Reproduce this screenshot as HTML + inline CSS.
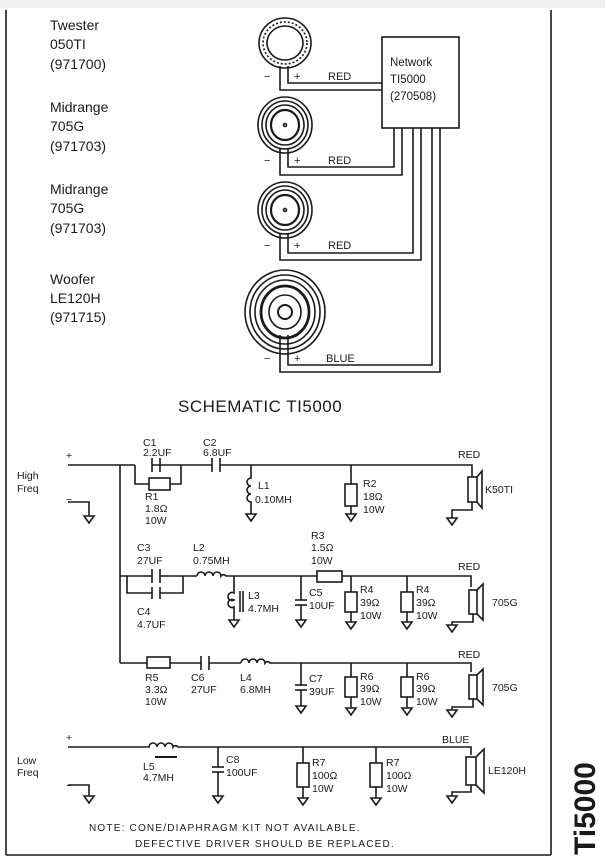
<!DOCTYPE html>
<html><head><meta charset="utf-8"><style>
html,body{margin:0;padding:0;background:#fff;}
svg{display:block;}
text{font-family:"Liberation Sans",sans-serif;fill:#1a1a1a;}
.t{font-size:14px;}
.s{font-size:10.5px;}
</style></head><body>
<svg width="605" height="858" viewBox="0 0 605 858" xmlns="http://www.w3.org/2000/svg">
<rect x="0" y="0" width="605" height="8" fill="#eef0f4"/>
<g stroke="#1a1a1a" fill="none" stroke-width="1.6">
<line x1="6" y1="10" x2="6" y2="855"/>
<line x1="551" y1="10" x2="551" y2="855"/>
<line x1="6" y1="855" x2="551" y2="855"/>

<ellipse cx="285" cy="43" rx="26" ry="25"/>
<ellipse cx="285" cy="43" rx="22" ry="21" stroke-dasharray="2 2"/>
<ellipse cx="285" cy="43" rx="18" ry="17"/>
<rect x="382" y="37" width="77" height="91"/>
<path d="M280 66 V90 H382"/><path d="M288 66 V83 H382"/>

<ellipse cx="285" cy="125" rx="27" ry="28"/>
<ellipse cx="285" cy="125" rx="23" ry="24"/>
<ellipse cx="285" cy="125" rx="19" ry="20"/>
<ellipse cx="285" cy="125" rx="14" ry="15" stroke-width="2.2"/>
<circle cx="285" cy="125" r="1.5"/>
<path d="M280 148 V175 H402 V128"/><path d="M288 148 V167 H394 V128"/>

<ellipse cx="285" cy="210" rx="27" ry="28"/>
<ellipse cx="285" cy="210" rx="23" ry="24"/>
<ellipse cx="285" cy="210" rx="19" ry="20"/>
<ellipse cx="285" cy="210" rx="14" ry="15" stroke-width="2.2"/>
<circle cx="285" cy="210" r="1.5"/>
<path d="M280 233 V260 H421 V128"/><path d="M288 233 V253 H413 V128"/>

<ellipse cx="285" cy="312" rx="40" ry="42"/>
<ellipse cx="285" cy="312" rx="35" ry="37"/>
<ellipse cx="285" cy="312" rx="30" ry="32"/>
<ellipse cx="285" cy="312" rx="24" ry="26" stroke-width="2.8"/>
<ellipse cx="285" cy="312" rx="16" ry="17"/>
<ellipse cx="285" cy="312" rx="7" ry="7" stroke-width="2"/>
<path d="M280 335 V372 H440 V128"/><path d="M288 335 V365 H432 V128"/>

<path d="M68 465 H135"/><path d="M181 465 H152 M160 465 H212 M220 465 H467 H472 V477"/>
<line x1="152" y1="458" x2="152" y2="472"/><line x1="160" y1="458" x2="160" y2="472"/>
<line x1="212" y1="458" x2="212" y2="472"/><line x1="220" y1="458" x2="220" y2="472"/>
<path d="M135 465 V484 H149 M170 484 H181 V465"/>
<rect x="149" y="478" width="21" height="12"/>
<path d="M68 502 H89 V516"/><polygon points="84,516 94,516 89,523"/>
<path d="M120 465 V663"/>
<path d="M251 465 V478 a4 4 0 1 0 0 8 a4 4 0 1 0 0 8 a4 4 0 1 0 0 8 V514"/>
<polygon points="246,514 256,514 251,521"/>
<path d="M351 465 V484 M351 506 V514"/><rect x="345" y="484" width="12" height="22"/>
<polygon points="346,514 356,514 351,521"/>
<rect x="468" y="477" width="9" height="25"/><path d="M477 477 L482 471 V508 L477 502"/>
<path d="M472 502 V510 H452 V518"/><polygon points="447,518 457,518 452,525"/>

<path d="M120 576 H152 M160 576 H197"/>
<line x1="152" y1="569" x2="152" y2="583"/><line x1="160" y1="569" x2="160" y2="583"/>
<path d="M127 576 V593 H152 M160 593 H183 V576"/>
<line x1="152" y1="587" x2="152" y2="599"/><line x1="160" y1="587" x2="160" y2="599"/>
<path d="M197 576 a4 4 0 0 1 8 0 a4 4 0 0 1 8 0 a4 4 0 0 1 8 0 a3 3 0 0 1 5 0 H317 M342 576 H471 V587"/>
<rect x="317" y="571" width="25" height="11"/>
<path d="M234 576 V593 a4 4 0 1 0 0 7 a4 4 0 1 0 0 7 V620"/>
<line x1="240" y1="591" x2="240" y2="612"/><line x1="243" y1="591" x2="243" y2="612"/>
<polygon points="229,620 239,620 234,627"/>
<path d="M301 576 V600 M301 605 V620"/><line x1="295" y1="600" x2="307" y2="600"/><line x1="295" y1="605" x2="307" y2="605"/>
<polygon points="296,620 306,620 301,627"/>
<path d="M351 576 V592 M351 612 V622"/><rect x="345" y="592" width="12" height="20"/>
<polygon points="346,622 356,622 351,629"/>
<path d="M407 576 V592 M407 612 V622"/><rect x="401" y="592" width="12" height="20"/>
<polygon points="402,622 412,622 407,629"/>
<rect x="469" y="590" width="8" height="24"/><path d="M477 590 L483 584 V620 L477 614"/>
<path d="M473 614 V622 H452 V625"/><polygon points="447,625 457,625 452,632"/>

<path d="M120 663 H147 M170 663 H201 M209 663 H241"/>
<rect x="147" y="657" width="23" height="11"/>
<line x1="201" y1="656" x2="201" y2="670"/><line x1="209" y1="656" x2="209" y2="670"/>
<path d="M241 663 a4 4 0 0 1 8 0 a4 4 0 0 1 8 0 a4 4 0 0 1 8 0 a3 3 0 0 1 5 0 H471 V672"/>
<path d="M301 663 V685 M301 690 V706"/><line x1="295" y1="685" x2="307" y2="685"/><line x1="295" y1="690" x2="307" y2="690"/>
<polygon points="296,706 306,706 301,713"/>
<path d="M351 663 V677 M351 697 V708"/><rect x="345" y="677" width="12" height="20"/>
<polygon points="346,708 356,708 351,715"/>
<path d="M407 663 V677 M407 697 V708"/><rect x="401" y="677" width="12" height="20"/>
<polygon points="402,708 412,708 407,715"/>
<rect x="469" y="675" width="8" height="24"/><path d="M477 675 L483 669 V705 L477 699"/>
<path d="M473 699 V707 H452 V710"/><polygon points="447,710 457,710 452,717"/>

<path d="M68 747 H149 a4 4 0 0 1 8 0 a4 4 0 0 1 8 0 a4 4 0 0 1 8 0 a3 3 0 0 1 5 0 H471 V755"/>
<line x1="155" y1="757" x2="177" y2="757" stroke-width="2"/>
<path d="M218 747 V767 M218 772 V796"/><line x1="212" y1="767" x2="224" y2="767"/><line x1="212" y1="772" x2="224" y2="772"/>
<polygon points="213,796 223,796 218,803"/>
<path d="M303 747 V763 M303 787 V798"/><rect x="297" y="763" width="12" height="24"/>
<polygon points="298,798 308,798 303,805"/>
<path d="M376 747 V763 M376 787 V798"/><rect x="370" y="763" width="12" height="24"/>
<polygon points="371,798 381,798 376,805"/>
<rect x="466" y="757" width="10" height="28"/><path d="M476 757 L484 749 V793 L476 785"/>
<path d="M471 785 V792 H452 V796"/><polygon points="447,796 457,796 452,803"/>
<path d="M68 785 H89 V796"/><polygon points="84,796 94,796 89,803"/>
</g>

<g class="t">
<text x="50" y="30">Twester</text><text x="50" y="49">050TI</text><text x="50" y="69">(971700)</text>
<text x="50" y="112">Midrange</text><text x="50" y="131">705G</text><text x="50" y="151">(971703)</text>
<text x="50" y="194">Midrange</text><text x="50" y="213">705G</text><text x="50" y="233">(971703)</text>
<text x="50" y="284">Woofer</text><text x="50" y="303">LE120H</text><text x="50" y="322">(971715)</text>
<text x="390" y="66" font-size="11.5">Network</text><text x="390" y="83" font-size="11.5">TI5000</text><text x="390" y="100" font-size="11.5">(270508)</text>
</g>
<g font-size="11">
<text x="264" y="80">−</text><text x="294" y="80">+</text><text x="328" y="80">RED</text>
<text x="264" y="164">−</text><text x="294" y="164">+</text><text x="328" y="164">RED</text>
<text x="264" y="249">−</text><text x="294" y="249">+</text><text x="328" y="249">RED</text>
<text x="264" y="362">−</text><text x="294" y="362">+</text><text x="326" y="362">BLUE</text>
</g>
<text x="178" y="412" font-size="17" letter-spacing="0.5">SCHEMATIC  TI5000</text>

<g class="s">
<text x="66" y="459">+</text><text x="17" y="479">High</text><text x="17" y="492">Freq</text><text x="66" y="503">−</text>
<text x="143" y="446">C1</text><text x="143" y="456">2.2UF</text>
<text x="203" y="446">C2</text><text x="203" y="456">6.8UF</text>
<text x="145" y="500">R1</text><text x="145" y="512">1.8Ω</text><text x="145" y="524">10W</text>
<text x="258" y="489">L1</text><text x="255" y="503">0.10MH</text>
<text x="363" y="487">R2</text><text x="363" y="500">18Ω</text><text x="363" y="513">10W</text>
<text x="458" y="458">RED</text><text x="485" y="493">K50TI</text>
<text x="137" y="551">C3</text><text x="137" y="564">27UF</text>
<text x="193" y="551">L2</text><text x="193" y="564">0.75MH</text>
<text x="311" y="539">R3</text><text x="311" y="551">1.5Ω</text><text x="311" y="564">10W</text>
<text x="137" y="615">C4</text><text x="137" y="628">4.7UF</text>
<text x="248" y="599">L3</text><text x="248" y="612">4.7MH</text>
<text x="309" y="596">C5</text><text x="309" y="609">10UF</text>
<text x="360" y="593">R4</text><text x="360" y="606">39Ω</text><text x="360" y="619">10W</text>
<text x="416" y="593">R4</text><text x="416" y="606">39Ω</text><text x="416" y="619">10W</text>
<text x="458" y="570">RED</text><text x="492" y="606">705G</text>
<text x="145" y="681">R5</text><text x="145" y="693">3.3Ω</text><text x="145" y="705">10W</text>
<text x="191" y="681">C6</text><text x="191" y="693">27UF</text>
<text x="240" y="681">L4</text><text x="240" y="693">6.8MH</text>
<text x="309" y="682">C7</text><text x="309" y="695">39UF</text>
<text x="360" y="680">R6</text><text x="360" y="692">39Ω</text><text x="360" y="705">10W</text>
<text x="416" y="680">R6</text><text x="416" y="692">39Ω</text><text x="416" y="705">10W</text>
<text x="458" y="658">RED</text><text x="492" y="691">705G</text>
<text x="66" y="741">+</text><text x="17" y="764">Low</text><text x="17" y="776">Freq</text><text x="66" y="789">−</text>
<text x="143" y="770">L5</text><text x="143" y="781">4.7MH</text>
<text x="226" y="763">C8</text><text x="226" y="776">100UF</text>
<text x="312" y="766">R7</text><text x="312" y="779">100Ω</text><text x="312" y="792">10W</text>
<text x="386" y="766">R7</text><text x="386" y="779">100Ω</text><text x="386" y="792">10W</text>
<text x="442" y="743">BLUE</text><text x="488" y="774">LE120H</text>
</g>
<text x="89" y="831" font-size="10" letter-spacing="1.2">NOTE: CONE/DIAPHRAGM KIT NOT AVAILABLE.</text>
<text x="135" y="847" font-size="10" letter-spacing="1.2">DEFECTIVE DRIVER SHOULD BE REPLACED.</text>
<text transform="translate(595,855) rotate(-90)" font-size="30" font-weight="bold" fill="#111">Ti5000</text>
</svg>
</body></html>
